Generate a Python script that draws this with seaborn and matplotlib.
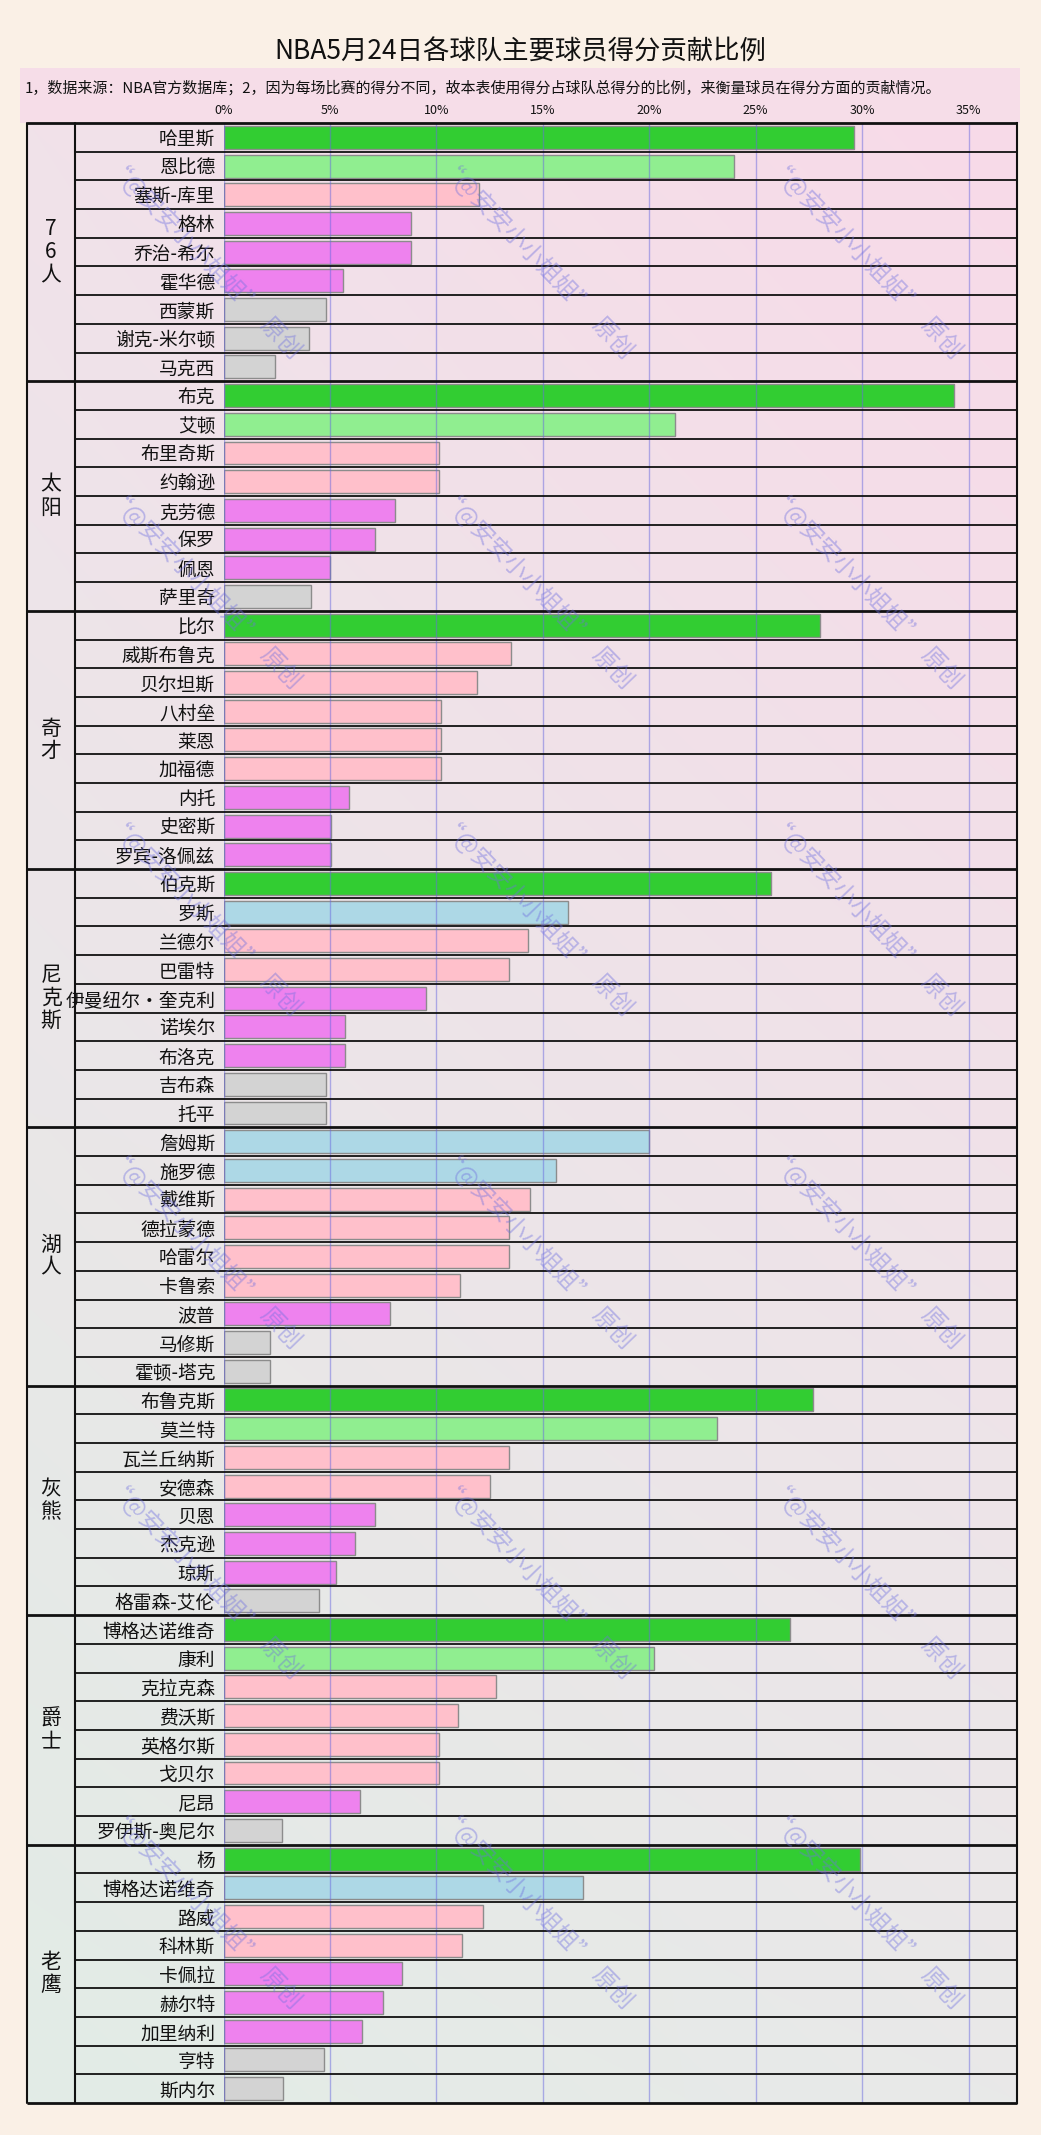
import numpy as np
import pandas as pd
import matplotlib
matplotlib.use("Agg")
import matplotlib.pyplot as plt
import matplotlib.transforms as mtransforms
from matplotlib.patches import Rectangle
import seaborn as sns

sns.set_theme(style="white")
plt.rcParams['font.family'] = ['Noto Sans CJK SC', 'DejaVu Sans']
plt.rcParams['axes.unicode_minus'] = False

# ---------------- data ----------------
title = "NBA5月24日各球队主要球员得分贡献比例"
notes = "1，数据来源：NBA官方数据库；2，因为每场比赛的得分不同，故本表使用得分占球队总得分的比例，来衡量球员在得分方面的贡献情况。"
watermark = "“@安安小小姐姐”  原创"

teams = ["7\n6\n人", "太\n阳", "奇\n才", "尼\n克\n斯", "湖\n人", "灰\n熊", "爵\n士", "老\n鹰"]

players_76 = ["哈里斯", "恩比德", "塞斯-库里", "格林", "乔治-希尔", "霍华德", "西蒙斯", "谢克-米尔顿", "马克西"]
values_76 = [29.6, 24.0, 12.0, 8.8, 8.8, 5.6, 4.8, 4.0, 2.4]

players_suns = ["布克", "艾顿", "布里奇斯", "约翰逊", "克劳德", "保罗", "佩恩", "萨里奇"]
values_suns = [34.3, 21.2, 10.1, 10.1, 8.05, 7.1, 5.0, 4.1]

players_wiz = ["比尔", "威斯布鲁克", "贝尔坦斯", "八村垒", "莱恩", "加福德", "内托", "史密斯", "罗宾-洛佩兹"]
values_wiz = [28.0, 13.5, 11.9, 10.2, 10.2, 10.2, 5.9, 5.07, 5.07]

players_knicks = ["伯克斯", "罗斯", "兰德尔", "巴雷特", "伊曼纽尔·奎克利", "诺埃尔", "布洛克", "吉布森", "托平"]
values_knicks = [25.7, 16.2, 14.3, 13.4, 9.5, 5.7, 5.7, 4.8, 4.8]

players_lakers = ["詹姆斯", "施罗德", "戴维斯", "德拉蒙德", "哈雷尔", "卡鲁索", "波普", "马修斯", "霍顿-塔克"]
values_lakers = [20.0, 15.6, 14.4, 13.4, 13.4, 11.1, 7.8, 2.2, 2.2]

players_grizz = ["布鲁克斯", "莫兰特", "瓦兰丘纳斯", "安德森", "贝恩", "杰克逊", "琼斯", "格雷森-艾伦"]
values_grizz = [27.7, 23.2, 13.4, 12.5, 7.1, 6.2, 5.3, 4.5]

players_jazz = ["博格达诺维奇", "康利", "克拉克森", "费沃斯", "英格尔斯", "戈贝尔", "尼昂", "罗伊斯-奥尼尔"]
values_jazz = [26.6, 20.2, 12.8, 11.0, 10.1, 10.1, 6.4, 2.75]

players_hawks = ["杨", "博格达诺维奇", "路威", "科林斯", "卡佩拉", "赫尔特", "加里纳利", "亨特", "斯内尔"]
values_hawks = [29.9, 16.9, 12.2, 11.2, 8.4, 7.5, 6.5, 4.7, 2.8]

xticks = [0, 5, 10, 15, 20, 25, 30, 35]
xticklabels = ["0%", "5%", "10%", "15%", "20%", "25%", "30%", "35%"]

team_players = [players_76, players_suns, players_wiz, players_knicks,
                players_lakers, players_grizz, players_jazz, players_hawks]
team_values = [values_76, values_suns, values_wiz, values_knicks,
               values_lakers, values_grizz, values_jazz, values_hawks]

# ---------------- build table ----------------
palette = {"top": "#32CD32", "second": "#90EE90", "blue": "#ADD8E6",
           "pink": "#FFC0CB", "violet": "#EE82EE", "gray": "#D3D3D3"}

def level(v):
    if v > 25:
        return "top"
    if v > 20:
        return "second"
    if v >= 15:
        return "blue"
    if v >= 10:
        return "pink"
    if v >= 5:
        return "violet"
    return "gray"

rows = []
for t, (pl, vl) in enumerate(zip(team_players, team_values)):
    for p, v in zip(pl, vl):
        rows.append({"row": f"r{len(rows)}", "name": p, "value": v, "team": t, "level": level(v)})
df = pd.DataFrame(rows)
n = len(df)

# ---------------- layout ----------------
W, H = 1041, 2135
fig = plt.figure(figsize=(W / 100, H / 100), dpi=100)
fig.patch.set_facecolor("#FAF0E6")

def fx(px):
    return px / W

def fy(py):
    return 1 - py / H

T_LEFT, T_NAME, A_LEFT, A_RIGHT = 27, 75, 223.5, 1016.5
T_TOP, T_BOT = 123, 2103

# notes band
fig.patches.append(Rectangle((fx(20), fy(T_TOP)), (1020 - 20) / W, (T_TOP - 68) / H,
                             transform=fig.transFigure, facecolor="#F6DDE8",
                             edgecolor="none", zorder=0))

# gradient background for the table
bgax = fig.add_axes([fx(T_LEFT), fy(T_BOT), (A_RIGHT - T_LEFT) / W, (T_BOT - T_TOP) / H], zorder=0)
tl = np.array([241, 226, 234]) / 255
tr = np.array([248, 218, 232]) / 255
bl = np.array([226, 236, 230]) / 255
br = np.array([233, 233, 233]) / 255
yy, xx = np.mgrid[0:1:200j, 0:1:100j]
grad = ((1 - yy)[..., None] * ((1 - xx)[..., None] * tl + xx[..., None] * tr)
        + yy[..., None] * ((1 - xx)[..., None] * bl + xx[..., None] * br))
bgax.imshow(grad, aspect="auto", extent=[0, 1, 1, 0], interpolation="bilinear")
bgax.axis("off")

ax = fig.add_axes([fx(A_LEFT), fy(T_BOT), (A_RIGHT - A_LEFT) / W, (T_BOT - T_TOP) / H], zorder=1)
ax.set_facecolor("none")

sns.barplot(data=df, x="value", y="row", hue="level", palette=palette, order=df["row"].tolist(),
            dodge=False, width=0.8, saturation=1, edgecolor="#8c8c8c", linewidth=1.0,
            legend=False, ax=ax, orient="h")

ax.set_xlim(0, 37.25)
ax.set_ylim(n - 0.5, -0.5)
ax.set_xlabel("")
ax.set_ylabel("")
ax.xaxis.tick_top()
ax.set_xticks(xticks)
ax.set_xticklabels(xticklabels, fontsize=9, color="#111111")
ax.set_yticks(range(n))
ax.set_yticklabels(df["name"].tolist(), fontsize=13.5, color="#111111")
ax.tick_params(axis="x", length=0, pad=4)
ax.tick_params(axis="y", length=0, pad=6)
ax.grid(axis="x", color="#6a6ae0", alpha=0.5, linewidth=1.0)
ax.grid(axis="y", visible=False)
ax.set_axisbelow(False)
for s in ["left", "top", "bottom"]:
    ax.spines[s].set_visible(False)
ax.spines["right"].set_color("#111111")
ax.spines["right"].set_linewidth(1.5)

x_name = (T_NAME - A_LEFT) / (A_RIGHT - A_LEFT)
x_left = (T_LEFT - A_LEFT) / (A_RIGHT - A_LEFT)
ytr = ax.get_yaxis_transform()

counts = [len(p) for p in team_players]
bounds = np.cumsum([0] + counts)
block_edges = set(bounds.tolist())
for i in range(1, n):
    if i in block_edges:
        continue
    ax.hlines(i - 0.5, x_name, 1, transform=ytr, color="#111111", linewidth=1.3, clip_on=False, zorder=4)
for b in bounds:
    ax.hlines(b - 0.5, x_left, 1, transform=ytr, color="#111111", linewidth=2.0, clip_on=False, zorder=4)
for xv in [x_left, x_name]:
    ax.plot([xv, xv], [0, 1], transform=ax.transAxes, color="#111111", linewidth=1.5,
            clip_on=False, zorder=4)

team_tr = mtransforms.blended_transform_factory(fig.transFigure, ax.transData)
for t, name in enumerate(teams):
    yc = (bounds[t] + bounds[t + 1] - 1) / 2
    ax.text(fx(51), yc, name, transform=team_tr, ha="center", va="center",
            fontsize=15, linespacing=1.05, color="#111111")

# title and notes
fig.text(0.5, fy(52), title, ha="center", va="center", fontsize=19, color="#111111")
fig.text(fx(25), fy(88), notes, ha="left", va="center", fontsize=10.8, color="#111111")

# watermarks
for yc in [257, 587, 914, 1247, 1577, 1907]:
    for xc in [204, 536, 865]:
        fig.text(fx(xc), fy(yc), watermark, ha="center", va="center", rotation=-46,
                 rotation_mode="anchor", fontsize=17, color="#7070e0", alpha=0.42, zorder=10)

fig.savefig("out.png", dpi=100, facecolor=fig.get_facecolor())
